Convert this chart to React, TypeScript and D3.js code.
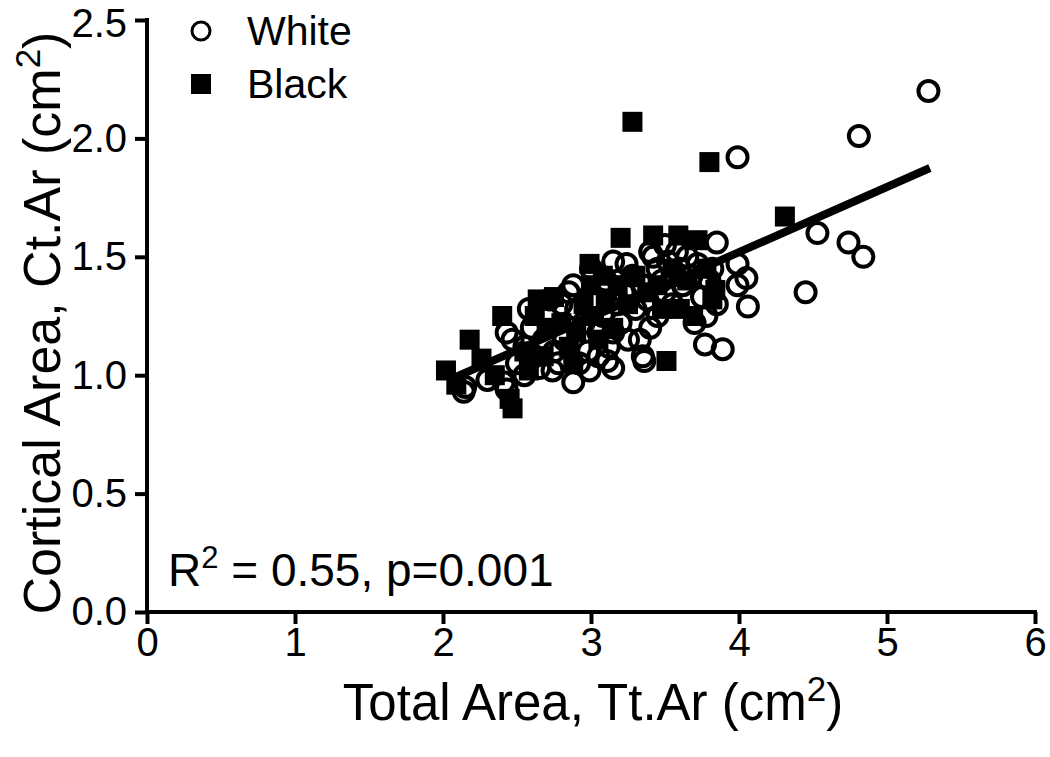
import React from "react";
import * as d3 from "d3";

// values: [Tt.Ar, Ct.Ar]
const whitePoints: [number, number][] = [
  [5.28, 2.2], [4.81, 2.01], [3.99, 1.92], [4.53, 1.6], [4.74, 1.56], [4.84, 1.5],
  [4.45, 1.35], [4.06, 1.29], [4.05, 1.41], [3.99, 1.38], [3.85, 1.56], [3.89, 1.11],
  [3.77, 1.13], [3.7, 1.22], [3.36, 1.06], [3.15, 1.03], [3.11, 1.06], [2.99, 1.02],
  [2.88, 0.97], [2.74, 1.02], [2.65, 1.03], [2.43, 0.94], [2.41, 0.97], [2.3, 0.98],
  [2.14, 0.93], [2.15, 0.95], [3.99, 1.47], [3.42, 1.5], [3.24, 1.47], [3.4, 1.2],
  [3.33, 1.15], [2.43, 1.18], [2.47, 1.15], [2.55, 1.12], [2.8, 1.3], [2.6, 1.2],
  [2.7, 1.25], [2.75, 1.1], [2.82, 1.15], [2.85, 1.35], [2.9, 1.28], [2.95, 1.22],
  [2.98, 1.1], [3.02, 1.32], [3.05, 1.18], [3.08, 1.25], [3.1, 1.4], [3.12, 1.12],
  [3.18, 1.3], [3.2, 1.22], [3.22, 1.35], [3.28, 1.42], [3.3, 1.28], [3.35, 1.38],
  [3.38, 1.32], [3.45, 1.45], [3.48, 1.4], [3.5, 1.35], [3.52, 1.48], [3.55, 1.42],
  [3.58, 1.52], [3.6, 1.45], [3.62, 1.38], [3.65, 1.5], [3.68, 1.42], [3.72, 1.47],
  [3.8, 1.4], [3.82, 1.45], [3.75, 1.33], [3.55, 1.3], [3.45, 1.25], [3.25, 1.15],
  [3.15, 1.18], [2.92, 1.05], [2.78, 1.05], [2.68, 1.15], [2.62, 1.08], [2.58, 1.28],
  [2.72, 1.32], [2.88, 1.38], [3.0, 1.45], [3.15, 1.48], [3.4, 1.52], [3.5, 1.55],
  [2.55, 1.0], [2.5, 1.05], [3.05, 1.08], [3.35, 1.08], [3.85, 1.3], [3.78, 1.25],
];

const blackPoints: [number, number][] = [
  [3.28, 2.07], [3.8, 1.9], [4.31, 1.67], [2.02, 1.02], [2.09, 0.96], [2.18, 1.15],
  [2.26, 1.07], [2.4, 1.25], [2.45, 0.9], [2.47, 0.86], [3.2, 1.58], [3.42, 1.59],
  [3.59, 1.59], [3.72, 1.57], [2.99, 1.47], [3.51, 1.06], [3.69, 1.25], [3.6, 1.28],
  [3.84, 1.36], [2.64, 1.32], [2.62, 1.25], [2.7, 1.2], [2.75, 1.33], [2.8, 1.22],
  [2.85, 1.12], [2.9, 1.18], [2.95, 1.3], [3.0, 1.38], [3.02, 1.25], [3.08, 1.42],
  [3.1, 1.32], [3.15, 1.2], [3.18, 1.38], [3.25, 1.3], [3.3, 1.42], [3.38, 1.35],
  [3.45, 1.38], [3.48, 1.28], [3.55, 1.45], [3.65, 1.4], [3.78, 1.45], [2.55, 1.1],
  [2.58, 1.02], [2.68, 1.08], [3.05, 1.15], [2.88, 1.05], [2.35, 1.0], [3.82, 1.32],
];

// fitted line end points
const fitLine: [number, number][] = [[2.06, 0.985], [5.29, 1.875]];

const xTicks = [0, 1, 2, 3, 4, 5, 6];
const yTicks = [0, 0.5, 1.0, 1.5, 2.0, 2.5];

const FONT = "'Liberation Sans', Arial, sans-serif";

export default function App() {
  const svgRef = React.useRef<SVGSVGElement>(null);
  const width = 1050;
  const height = 757;

  React.useEffect(() => {
    const x = d3.scaleLinear().domain([0, 6]).range([147, 1035]);
    const y = d3.scaleLinear().domain([0, 2.5]).range([612, 20]);

    const svg = d3.select(svgRef.current);
    svg.selectAll("*").remove();

    // x axis
    const xAxis = d3.axisBottom(x).tickValues(xTicks).tickSize(12).tickPadding(4).tickFormat(d3.format("d"));
    const gx = svg.append("g").attr("transform", `translate(0,${y(0)})`).call(xAxis);
    gx.select(".domain").attr("stroke", "#000").attr("stroke-width", 4).attr("d", `M${x(0) - 2},0H${x(6) + 2}`);
    gx.selectAll(".tick line").attr("stroke", "#000").attr("stroke-width", 4);
    gx.selectAll("text").attr("font-family", FONT).attr("font-size", 40).attr("fill", "#000");

    // y axis
    const yAxis = d3.axisLeft(y).tickValues(yTicks).tickSize(12).tickPadding(8).tickFormat(d3.format(".1f"));
    const gy = svg.append("g").attr("transform", `translate(${x(0)},0)`).call(yAxis);
    gy.select(".domain").attr("stroke", "#000").attr("stroke-width", 4).attr("d", `M0,${y(0) + 2}V${y(2.5) - 2}`);
    gy.selectAll(".tick line").attr("stroke", "#000").attr("stroke-width", 4);
    gy.selectAll("text").attr("font-family", FONT).attr("font-size", 40).attr("fill", "#000");
    gy.selectAll(".tick text").filter(d => d === 2.5).attr("dy", "0.4em");

    // points
    svg.append("g").selectAll("rect")
      .data(blackPoints)
      .enter()
      .append("rect")
      .attr("x", d => x(d[0]) - 10)
      .attr("y", d => y(d[1]) - 10)
      .attr("width", 20)
      .attr("height", 20)
      .attr("fill", "#000");

    svg.append("g").selectAll("circle")
      .data(whitePoints)
      .enter()
      .append("circle")
      .attr("cx", d => x(d[0]))
      .attr("cy", d => y(d[1]))
      .attr("r", 10)
      .attr("fill", "none")
      .attr("stroke", "#000")
      .attr("stroke-width", 4);

    // regression line
    svg.append("path")
      .attr("d", d3.line<[number, number]>().x(d => x(d[0])).y(d => y(d[1]))(fitLine) ?? "")
      .attr("stroke", "#000")
      .attr("stroke-width", 8)
      .attr("fill", "none");

    // legend
    const legend = svg.append("g").attr("font-family", FONT).attr("font-size", 41);
    legend.append("circle").attr("cx", 201).attr("cy", 31).attr("r", 9).attr("fill", "none").attr("stroke", "#000").attr("stroke-width", 3);
    legend.append("text").attr("x", 247).attr("y", 31).attr("dy", "0.35em").text("White");
    legend.append("rect").attr("x", 191).attr("y", 74).attr("width", 20).attr("height", 20).attr("fill", "#000");
    legend.append("text").attr("x", 247).attr("y", 84).attr("dy", "0.35em").text("Black");

    // stats
    const stats = svg.append("text").attr("x", 168).attr("y", 586).attr("font-family", FONT).attr("font-size", 46);
    stats.append("tspan").text("R");
    stats.append("tspan").attr("dy", -18).attr("font-size", 31).text("2");
    stats.append("tspan").attr("dy", 18).text(" = 0.55, p=0.001");

    // axis titles
    const xt = svg.append("text").attr("x", x(3) + 2).attr("y", 720).attr("text-anchor", "middle").attr("font-family", FONT).attr("font-size", 51);
    xt.append("tspan").text("Total Area, Tt.Ar (cm");
    xt.append("tspan").attr("dy", -19).attr("font-size", 35).text("2");
    xt.append("tspan").attr("dy", 19).text(")");

    const yt = svg.append("text").attr("transform", `translate(60,${(y(0) + y(2.5)) / 2 + 7}) rotate(-90)`).attr("text-anchor", "middle").attr("font-family", FONT).attr("font-size", 52);
    yt.append("tspan").text("Cortical Area, Ct.Ar (cm");
    yt.append("tspan").attr("dy", -20).attr("font-size", 35).text("2");
    yt.append("tspan").attr("dy", 20).text(")");
  }, []);

  return (
    <svg ref={svgRef} width={width} height={height}
      style={{ position: "absolute", left: 0, top: 0, background: "#fff" }} />
  );
}
